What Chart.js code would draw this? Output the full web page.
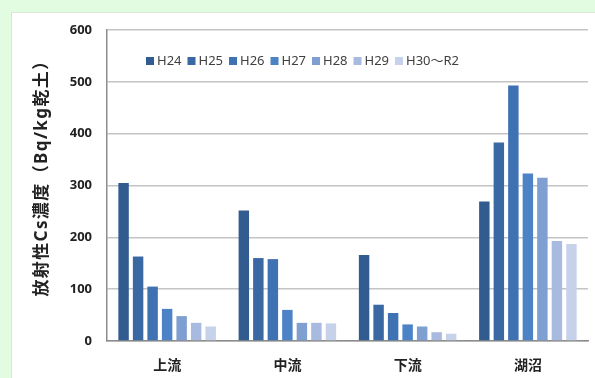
<!DOCTYPE html>
<html>
<head>
<meta charset="utf-8">
<script src="https://cdn.jsdelivr.net/npm/chart.js@4/dist/chart.umd.min.js"></script>
<style>
  html, body { margin: 0; padding: 0; width: 595px; height: 378px; overflow: hidden; background: #e2fce2; }
  .panel { position: absolute; left: 11px; top: 12px; right: 0; bottom: 0; background: #ffffff;
           border-left: 1px solid #d9e6d9; border-top: 1px solid #d9e6d9; }
  canvas { position: absolute; left: 0; top: 0; }
</style>
</head>
<body>
<div class="panel"></div>
<canvas id="c" width="595" height="378"></canvas>
<script>
// Sampling areas
const categories = ['上流', '中流', '下流', '湖沼'];

// Survey periods
const seriesLabels = ['H24', 'H25', 'H26', 'H27', 'H28', 'H29', 'H30～R2'];

// Radioactive Cs concentration (Bq/kg dry soil) per period, in category order
const h24 = [305, 252, 166, 269];
const h25 = [163, 160, 70, 383];
const h26 = [105, 158, 54, 493];
const h27 = [62, 60, 32, 323];
const h28 = [48, 35, 28, 315];
const h29 = [35, 35, 17, 193];
const h30r2 = [28, 34, 14, 187];

const yTicks = [0, 100, 200, 300, 400, 500, 600];
const yTitle = '放射性Cs濃度（Bq/kg乾土）';

const seriesValues = [h24, h25, h26, h27, h28, h29, h30r2];
const seriesColors = ['#325c8f', '#3a68a3', '#3f72b3', '#4c82c6', '#7f9fd1', '#a8badf', '#c6d1ea'];

const FONT = '"Noto Sans", "Noto Sans CJK JP", sans-serif';

// Legend row drawn inside the plot area
const insideLegend = {
  id: 'insideLegend',
  afterDraw(chart) {
    const ctx = chart.ctx;
    ctx.save();
    ctx.font = '13px ' + FONT;
    ctx.textBaseline = 'middle';
    ctx.textAlign = 'left';
    let x = 146;
    const yMid = 61;
    chart.data.datasets.forEach(ds => {
      ctx.fillStyle = ds.backgroundColor;
      ctx.fillRect(x, yMid - 4, 8, 8);
      x += 11;
      ctx.fillStyle = '#404040';
      ctx.fillText(ds.label, x, yMid + 0.5);
      x += ctx.measureText(ds.label).width + 6;
    });
    ctx.restore();
  }
};

// Vertical axis title with slightly spread letters
const axisTitle = {
  id: 'axisTitle',
  afterDraw(chart) {
    const ctx = chart.ctx;
    ctx.save();
    ctx.translate(42, 174);
    ctx.rotate(-Math.PI / 2);
    ctx.font = 'bold 17px ' + FONT;
    ctx.fillStyle = '#222';
    ctx.textBaseline = 'middle';
    ctx.textAlign = 'left';
    if ('letterSpacing' in ctx) ctx.letterSpacing = '1.4px';
    const w = ctx.measureText(yTitle).width;
    ctx.fillText(yTitle, -w / 2, 0);
    ctx.restore();
  }
};

new Chart(document.getElementById('c'), {
  type: 'bar',
  data: {
    labels: categories,
    datasets: seriesLabels.map((label, i) => ({
      label,
      data: seriesValues[i],
      backgroundColor: seriesColors[i],
      categoryPercentage: 0.845,
      barPercentage: 0.72
    }))
  },
  options: {
    responsive: false,
    animation: false,
    layout: { padding: { left: 28, right: 7, top: 30, bottom: 0 } },
    plugins: {
      legend: { display: false },
      tooltip: { enabled: false }
    },
    scales: {
      x: {
        grid: { display: false, drawTicks: false },
        border: { display: true, color: '#8c8c8c', width: 1.5 },
        ticks: {
          color: '#222',
          font: { family: FONT, size: 14, weight: 'bold' },
          padding: 17
        },
        afterFit(scale) { scale.height = 37; }
      },
      y: {
        min: 0,
        max: 600,
        afterBuildTicks(scale) { scale.ticks = yTicks.map(v => ({ value: v })); },
        grid: { color: '#c4c4c4', lineWidth: 1.5, drawTicks: false },
        border: { display: true, color: '#8c8c8c', width: 1.5 },
        ticks: {
          color: '#222',
          font: { family: FONT, size: 13, weight: 'bold' },
          padding: 15
        },
        afterFit(scale) { scale.width = 79; }
      }
    }
  },
  plugins: [insideLegend, axisTitle]
});
</script>
</body>
</html>
